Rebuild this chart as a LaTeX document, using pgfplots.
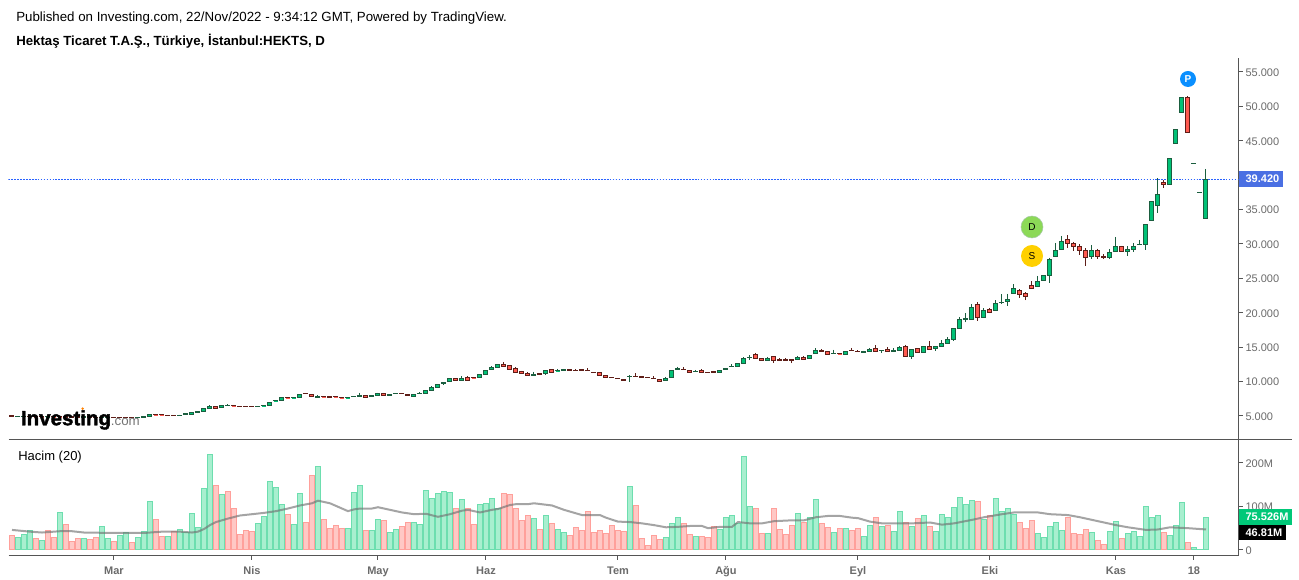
\documentclass[border=0pt]{standalone}
\usepackage{fontspec}
\setmainfont{Liberation Sans}
\newfontface\logofont[FakeBold=1.6]{Liberation Sans Bold}
\usepackage{pgfplots}
\pgfplotsset{compat=1.18}
\usepgfplotslibrary{statistics}
\definecolor{gfill}{HTML}{00C176}
\definecolor{gdark}{HTML}{1B5E3F}
\definecolor{rfill}{HTML}{FF5A50}
\definecolor{rdark}{HTML}{5E1E18}
\definecolor{vgf}{HTML}{A8EFCF}
\definecolor{vgd}{HTML}{6DDEAF}
\definecolor{vrf}{HTML}{FFC8C5}
\definecolor{vrd}{HTML}{FFA09B}
\definecolor{axc}{HTML}{555555}
\definecolor{lab}{HTML}{6A6A6A}
\definecolor{hl}{HTML}{2962FF}
\definecolor{lblue}{HTML}{4A6FE3}
\definecolor{lgreen}{HTML}{00C878}
\definecolor{bd}{HTML}{8CD957}
\definecolor{bs}{HTML}{FFD000}
\definecolor{bp}{HTML}{0A8FFF}
\newcommand\Cd[6]{\addplot[forget plot,line width=0.75pt,cand#6,boxplot prepared={draw position=#1,lower whisker=#2,lower quartile=#3,median=#3,upper quartile=#4,upper whisker=#5}] coordinates {};}
\pgfplotsset{candG/.style={draw=gdark,fill=gfill},candR/.style={draw=rdark,fill=rfill},
 boxplot/draw direction=y,boxplot/box extend=0.667, boxplot/whisker extend=0}
\newcommand\fs[1]{\fontsize{#1}{#1}\selectfont}
\begin{document}
\begin{tikzpicture}[x=1pt,y=1pt]
\useasboundingbox (0,0) rectangle (974.25,435);
\begin{axis}[name=price,at={(6.375pt,105pt)},anchor=south west,scale only axis,width=922.5pt,height=286.5pt,
 xmin=-0.583,xmax=204.42,ymin=1.512,ymax=57.03,
 axis x line=none,axis y line*=right,axis line style={-,draw=axc,line width=0.75pt},
 ytick={5,10,15,20,25,30,35,45,50,55},tick align=outside,major tick length=3pt,tick style={draw=axc,line width=0.75pt},
 tick label style={font=\fs{8.25pt},text=lab},
 yticklabel style={/pgf/number format/assume math mode=true,/pgf/number format/fixed,/pgf/number format/fixed zerofill,/pgf/number format/precision=3,xshift=-1.25pt,yshift=-0.4pt},
 scaled y ticks=false]
\addplot[forget plot,hl,line width=0.75pt,dash pattern=on 1.2pt off 1pt] coordinates {(-0.583,39.42)(204.42,39.42)};
\Cd{0}{4.98}{4.98}{5.02}{5.02}{R}\Cd{1}{4.93}{4.93}{4.97}{4.97}{G}\Cd{2}{4.93}{4.93}{4.97}{4.97}{G}\Cd{3}{4.90}{4.90}{4.94}{4.94}{R}\Cd{4}{4.88}{4.88}{4.92}{4.92}{R}
\Cd{5}{4.86}{4.86}{4.90}{4.90}{R}\Cd{6}{4.88}{4.88}{4.92}{4.92}{G}\Cd{7}{4.88}{4.88}{4.92}{4.92}{R}\Cd{8}{4.86}{4.86}{4.90}{4.90}{R}\Cd{9}{4.83}{4.83}{4.87}{4.87}{R}
\Cd{10}{4.83}{4.83}{4.87}{4.87}{R}\Cd{11}{4.82}{4.82}{4.86}{4.86}{R}\Cd{12}{4.82}{4.82}{4.86}{4.86}{G}\Cd{13}{4.82}{4.82}{4.86}{4.86}{R}\Cd{14}{4.81}{4.81}{4.85}{4.85}{R}
\Cd{15}{4.80}{4.80}{4.84}{4.84}{G}\Cd{16}{4.80}{4.80}{4.84}{4.84}{G}\Cd{17}{4.79}{4.79}{4.83}{4.83}{R}\Cd{18}{4.78}{4.78}{4.82}{4.82}{R}\Cd{19}{4.78}{4.78}{4.82}{4.82}{R}
\Cd{20}{4.79}{4.79}{4.83}{4.83}{R}\Cd{21}{4.79}{4.79}{4.83}{4.83}{G}\Cd{22}{4.83}{4.83}{4.87}{4.87}{G}\Cd{23}{4.89}{4.89}{5.24}{5.24}{G}\Cd{24}{5.17}{5.17}{5.21}{5.21}{R}
\Cd{25}{5.17}{5.17}{5.21}{5.21}{R}\Cd{26}{5.05}{5.08}{5.12}{5.12}{R}\Cd{27}{5.05}{5.08}{5.12}{5.12}{R}\Cd{28}{5.05}{5.08}{5.12}{5.20}{G}\Cd{29}{5.27}{5.27}{5.31}{5.31}{G}
\Cd{30}{5.22}{5.22}{5.50}{5.50}{G}\Cd{31}{5.56}{5.56}{5.60}{5.70}{G}\Cd{32}{5.67}{5.67}{6.08}{6.08}{G}\Cd{33}{6.05}{6.05}{6.42}{6.55}{G}\Cd{34}{6.05}{6.05}{6.38}{6.45}{R}
\Cd{35}{6.24}{6.24}{6.52}{6.52}{G}\Cd{36}{6.53}{6.53}{6.57}{6.70}{G}\Cd{37}{6.48}{6.48}{6.52}{6.62}{R}\Cd{38}{6.39}{6.39}{6.43}{6.43}{R}\Cd{39}{6.33}{6.33}{6.38}{6.38}{R}
\Cd{40}{6.33}{6.33}{6.38}{6.38}{R}\Cd{41}{6.33}{6.33}{6.38}{6.38}{G}\Cd{42}{6.48}{6.48}{6.52}{6.52}{G}\Cd{43}{6.52}{6.52}{6.96}{6.96}{G}\Cd{44}{7.15}{7.21}{7.25}{7.30}{G}
\Cd{45}{7.30}{7.30}{7.69}{7.69}{G}\Cd{46}{7.64}{7.64}{7.68}{7.75}{R}\Cd{47}{7.64}{7.64}{7.68}{7.68}{G}\Cd{48}{7.73}{7.73}{8.17}{8.17}{G}\Cd{49}{8.23}{8.23}{8.27}{8.27}{R}
\Cd{50}{7.75}{7.88}{8.13}{8.13}{R}\Cd{51}{7.68}{7.68}{7.89}{8.05}{G}\Cd{52}{7.79}{7.79}{7.83}{7.83}{R}\Cd{53}{7.74}{7.74}{7.78}{7.78}{R}\Cd{54}{7.79}{7.79}{7.83}{7.83}{R}
\Cd{55}{7.64}{7.64}{7.68}{7.68}{R}\Cd{56}{7.64}{7.64}{7.68}{7.68}{G}\Cd{57}{7.77}{7.77}{7.85}{7.85}{G}\Cd{58}{7.89}{7.89}{7.93}{8.39}{G}\Cd{59}{7.73}{7.73}{7.98}{7.98}{R}
\Cd{60}{7.89}{7.89}{7.93}{7.93}{G}\Cd{61}{7.98}{7.98}{8.31}{8.40}{G}\Cd{62}{7.98}{7.98}{8.27}{8.40}{R}\Cd{63}{8.03}{8.03}{8.07}{8.07}{G}\Cd{64}{8.22}{8.22}{8.34}{8.34}{G}
\Cd{65}{8.22}{8.22}{8.34}{8.34}{R}\Cd{66}{7.95}{7.95}{8.09}{8.09}{R}\Cd{67}{7.83}{7.83}{8.13}{8.13}{G}\Cd{68}{8.27}{8.27}{8.31}{8.45}{G}\Cd{69}{8.31}{8.31}{8.71}{8.71}{G}
\Cd{70}{8.73}{8.73}{9.19}{9.30}{G}\Cd{71}{9.14}{9.14}{9.56}{9.56}{G}\Cd{72}{9.55}{9.72}{9.94}{9.94}{G}\Cd{73}{10.00}{10.00}{10.45}{10.45}{G}\Cd{74}{10.18}{10.18}{10.45}{10.45}{R}
\Cd{75}{10.18}{10.18}{10.50}{10.80}{G}\Cd{76}{10.18}{10.18}{10.58}{10.75}{R}\Cd{77}{10.55}{10.55}{10.59}{10.70}{R}\Cd{78}{10.62}{10.62}{11.03}{11.03}{G}\Cd{79}{11.06}{11.06}{11.60}{11.60}{G}
\Cd{80}{11.78}{11.78}{12.08}{12.25}{G}\Cd{81}{12.07}{12.07}{12.46}{12.46}{G}\Cd{82}{12.20}{12.20}{12.46}{12.80}{R}\Cd{83}{11.78}{11.78}{12.27}{12.27}{R}\Cd{84}{11.37}{11.37}{11.90}{12.05}{R}
\Cd{85}{11.22}{11.22}{11.45}{11.60}{R}\Cd{86}{10.93}{10.93}{11.17}{11.40}{R}\Cd{87}{10.85}{10.95}{11.10}{11.40}{G}\Cd{88}{10.90}{11.05}{11.17}{11.17}{R}\Cd{89}{11.00}{11.18}{11.55}{11.55}{G}
\Cd{90}{11.37}{11.37}{11.73}{11.73}{R}\Cd{91}{11.57}{11.57}{11.61}{11.85}{G}\Cd{92}{11.66}{11.66}{11.70}{11.85}{G}\Cd{93}{11.66}{11.66}{11.72}{11.72}{R}\Cd{94}{11.60}{11.60}{11.66}{11.78}{R}
\Cd{95}{11.66}{11.66}{11.70}{11.82}{R}\Cd{96}{11.55}{11.55}{11.62}{11.92}{R}\Cd{97}{11.28}{11.28}{11.33}{11.33}{R}\Cd{98}{10.95}{10.95}{11.27}{11.27}{R}\Cd{99}{10.65}{10.65}{10.88}{10.88}{R}
\Cd{100}{10.55}{10.55}{10.62}{10.62}{R}\Cd{101}{10.40}{10.40}{10.45}{10.45}{R}\Cd{102}{10.23}{10.23}{10.30}{10.30}{R}\Cd{103}{9.99}{10.70}{10.78}{10.90}{G}\Cd{104}{10.70}{10.70}{10.78}{11.20}{R}
\Cd{105}{10.65}{10.65}{10.70}{10.70}{R}\Cd{106}{10.55}{10.55}{10.60}{10.60}{R}\Cd{107}{10.40}{10.40}{10.48}{10.75}{R}\Cd{108}{10.06}{10.06}{10.30}{10.30}{R}\Cd{109}{10.14}{10.14}{10.50}{10.70}{G}
\Cd{110}{10.65}{10.65}{11.55}{11.55}{G}\Cd{111}{11.76}{11.76}{11.84}{12.17}{G}\Cd{112}{11.72}{11.72}{11.78}{12.10}{R}\Cd{113}{11.35}{11.35}{11.60}{11.60}{R}\Cd{114}{11.42}{11.42}{11.50}{11.70}{G}
\Cd{115}{11.35}{11.35}{11.60}{11.80}{R}\Cd{116}{11.27}{11.27}{11.33}{11.33}{R}\Cd{117}{11.38}{11.38}{11.42}{11.60}{R}\Cd{118}{11.35}{11.35}{11.55}{11.55}{G}\Cd{119}{11.78}{11.78}{11.90}{12.00}{G}
\Cd{120}{12.15}{12.15}{12.20}{12.50}{G}\Cd{121}{12.22}{12.22}{12.56}{12.56}{G}\Cd{122}{12.66}{12.66}{13.38}{13.55}{G}\Cd{123}{13.15}{13.50}{13.55}{13.85}{G}\Cd{124}{13.38}{13.38}{13.87}{14.20}{R}
\Cd{125}{13.04}{13.04}{13.38}{13.38}{R}\Cd{126}{13.04}{13.04}{13.38}{13.60}{G}\Cd{127}{12.75}{13.04}{13.60}{13.60}{R}\Cd{128}{13.11}{13.11}{13.16}{13.40}{R}\Cd{129}{13.11}{13.11}{13.16}{13.40}{R}
\Cd{130}{12.65}{13.10}{13.16}{13.16}{R}\Cd{131}{13.19}{13.19}{13.48}{13.75}{G}\Cd{132}{13.28}{13.28}{13.53}{13.70}{R}\Cd{133}{13.38}{13.38}{13.82}{13.82}{G}\Cd{134}{14.10}{14.10}{14.45}{14.85}{G}
\Cd{135}{14.43}{14.43}{14.47}{14.70}{R}\Cd{136}{13.96}{13.96}{14.40}{14.40}{R}\Cd{137}{14.08}{14.08}{14.14}{14.65}{G}\Cd{138}{14.02}{14.02}{14.08}{14.08}{R}\Cd{139}{13.90}{13.90}{14.40}{14.40}{G}
\Cd{140}{14.52}{14.52}{14.58}{14.90}{R}\Cd{141}{14.33}{14.33}{14.40}{14.55}{R}\Cd{142}{14.28}{14.28}{14.32}{14.50}{G}\Cd{143}{14.40}{14.40}{14.60}{14.85}{G}\Cd{144}{14.40}{14.40}{14.83}{15.30}{R}
\Cd{145}{14.20}{14.45}{14.55}{14.55}{G}\Cd{146}{14.40}{14.40}{14.69}{15.00}{R}\Cd{147}{14.43}{14.43}{14.47}{14.90}{G}\Cd{148}{14.55}{14.55}{14.93}{15.20}{G}\Cd{149}{13.67}{13.67}{15.13}{15.35}{R}
\Cd{150}{13.30}{13.67}{14.69}{14.69}{G}\Cd{151}{14.25}{14.25}{14.79}{14.79}{R}\Cd{152}{14.20}{14.20}{15.13}{15.13}{G}\Cd{153}{14.69}{14.69}{15.13}{15.90}{R}\Cd{154}{14.50}{14.84}{15.13}{15.13}{G}
\Cd{155}{15.08}{15.08}{15.56}{16.00}{G}\Cd{156}{15.56}{15.56}{16.14}{16.45}{G}\Cd{157}{15.95}{16.14}{17.70}{17.70}{G}\Cd{158}{17.74}{17.74}{19.05}{19.40}{G}\Cd{159}{18.60}{19.05}{19.20}{20.00}{G}
\Cd{160}{19.05}{19.05}{20.80}{21.30}{G}\Cd{161}{18.85}{19.34}{21.18}{21.50}{R}\Cd{162}{19.34}{19.34}{20.30}{20.65}{G}\Cd{163}{19.90}{20.06}{20.50}{20.70}{R}\Cd{164}{20.36}{20.36}{21.38}{21.85}{G}
\Cd{165}{21.30}{21.43}{21.53}{22.70}{G}\Cd{166}{21.00}{21.60}{21.95}{22.80}{G}\Cd{167}{22.83}{22.83}{23.50}{24.15}{G}\Cd{168}{22.20}{22.63}{23.27}{23.45}{R}\Cd{169}{21.80}{22.40}{22.78}{23.00}{R}
\Cd{170}{23.55}{23.55}{24.00}{24.60}{R}\Cd{171}{23.80}{23.80}{24.57}{25.35}{G}\Cd{172}{24.72}{24.72}{25.45}{25.45}{G}\Cd{173}{24.38}{25.45}{27.77}{28.00}{G}\Cd{174}{28.16}{28.16}{29.08}{30.15}{G}
\Cd{175}{29.20}{29.20}{30.39}{31.16}{G}\Cd{176}{29.47}{30.10}{30.68}{31.30}{R}\Cd{177}{29.03}{29.60}{30.10}{30.30}{R}\Cd{178}{28.40}{29.08}{29.66}{29.95}{R}\Cd{179}{26.80}{28.06}{29.08}{29.37}{R}
\Cd{180}{27.87}{28.16}{29.08}{29.80}{G}\Cd{181}{27.87}{28.16}{29.08}{29.32}{R}\Cd{182}{27.77}{28.10}{28.20}{28.50}{R}\Cd{183}{27.87}{28.06}{28.79}{29.27}{G}\Cd{184}{28.93}{28.93}{29.66}{31.02}{G}
\Cd{185}{28.93}{28.93}{29.66}{29.76}{R}\Cd{186}{28.30}{28.93}{29.20}{29.70}{G}\Cd{187}{28.88}{29.20}{29.66}{30.15}{G}\Cd{188}{29.90}{29.90}{29.98}{30.58}{G}\Cd{189}{29.13}{29.95}{32.86}{32.86}{G}
\Cd{190}{33.44}{33.44}{36.20}{36.20}{G}\Cd{191}{34.55}{35.62}{37.22}{39.54}{G}\Cd{192}{38.19}{38.62}{38.96}{39.30}{R}\Cd{193}{38.67}{38.67}{42.45}{42.45}{G}\Cd{194}{44.63}{44.63}{46.67}{46.67}{G}
\Cd{195}{49.14}{49.14}{51.32}{51.32}{G}\Cd{196}{46.23}{46.23}{51.32}{51.50}{R}\Cd{197}{41.70}{41.70}{41.76}{41.76}{G}\Cd{198}{37.48}{37.48}{37.54}{37.54}{G}\Cd{199}{33.73}{33.73}{39.42}{40.90}{G}
\end{axis}
\begin{axis}[name=vol,at={(6.375pt,18pt)},anchor=south west,scale only axis,width=922.5pt,height=87pt,
 xmin=-0.583,xmax=204.42,ymin=-13.75,ymax=252,
 axis x line*=bottom,axis y line*=right,axis line style={-,draw=axc,line width=0.75pt},
 xtick={17,40,61,79,101,119,141,163,184,197},xticklabels={Mar,Nis,May,Haz,Tem,Ağu,Eyl,Eki,Kas,18},
 ytick={0,100,200},yticklabels={0,100M,200M},
 tick align=outside,major tick length=3pt,tick style={draw=axc,line width=0.75pt},
 xticklabel style={font=\fs{8.25pt}\bfseries,text=lab,yshift=-1pt,text height=6pt,text depth=1.8pt},
 yticklabel style={font=\fs{8.25pt},text=lab,xshift=-1.25pt,yshift=-0.4pt},
 ybar,bar shift=0pt,bar width=3.75pt]
\addplot[forget plot,fill=vrf,draw=vrd,line width=0.75pt] coordinates {(0,34)(4,27)(6,45)(7,29)(9,59)(10,20)(11,27)(13,24)(14,29)(17,20)(20,18)(24,70)(25,31)(27,43)(34,148)(36,134)(37,95)(38,36)(39,45)(40,43)(46,82)(49,63)(50,171)(52,70)(53,50)(54,57)(55,50)(59,45)(62,68)(65,54)(66,63)(74,95)(76,95)(77,59)(82,130)(83,128)(84,95)(85,68)(86,79)(88,47)(90,61)(93,34)(94,52)(95,45)(96,89)(97,40)(98,45)(99,38)(100,57)(101,45)(102,43)(104,102)(105,27)(106,11)(107,34)(108,24)(112,61)(113,36)(115,31)(116,29)(117,54)(124,95)(125,38)(127,95)(128,47)(129,36)(130,57)(132,63)(135,61)(136,52)(138,50)(140,45)(141,50)(144,75)(146,57)(149,63)(151,73)(153,54)(161,111)(163,79)(168,63)(169,50)(170,68)(176,75)(177,38)(178,36)(179,47)(181,22)(182,13)(185,27)(192,40)(196,18)};
\addplot[forget plot,fill=vgf,draw=vgd,line width=0.75pt] coordinates {(1,29)(2,36)(3,45)(5,22)(8,86)(12,27)(15,54)(16,27)(18,34)(19,40)(21,29)(22,43)(23,111)(26,31)(28,47)(29,40)(30,84)(31,52)(32,141)(33,219)(35,128)(41,61)(42,77)(43,157)(44,144)(45,105)(47,59)(48,130)(51,192)(56,50)(57,132)(58,148)(60,45)(61,70)(63,40)(64,47)(67,63)(68,59)(69,137)(70,118)(71,130)(72,134)(73,132)(75,116)(78,105)(79,107)(80,118)(81,95)(87,73)(89,79)(91,47)(92,40)(103,146)(109,29)(110,61)(111,75)(114,31)(118,47)(119,75)(120,79)(121,61)(122,215)(123,100)(126,38)(131,84)(133,75)(134,116)(137,40)(139,50)(142,32)(143,57)(145,54)(147,43)(148,89)(150,54)(152,79)(154,43)(155,82)(156,75)(157,98)(158,121)(159,105)(160,114)(162,70)(164,118)(165,89)(166,95)(167,82)(171,38)(172,29)(173,54)(174,63)(175,45)(180,40)(183,43)(184,66)(186,38)(187,43)(188,31)(189,100)(190,75)(191,79)(193,34)(194,57)(195,109)(197,6)(198,0.5)(199,75.5)};
\addplot[forget plot,sharp plot,no markers,draw=black!55,draw opacity=0.65,line width=1.5pt] coordinates {(0,46)(3,42)(5,40)(8,43)(10,43)(12,40)(17,39)(22,39)(25,42)(28,42)(30,40)(31,42)(32,48)(33,57)(34,64)(36,72)(38,79)(40,82)(42,85)(44,89)(46,95)(48,102)(50,107)(51,113)(53,107)(55,95)(56,89)(57,93)(58,95)(60,95)(61,98)(63,92)(65,86)(67,82)(69,83)(71,76)(73,82)(75,90)(76,92)(78,86)(80,92)(81,94)(83,103)(84,105)(86,105)(87,107)(90,102)(92,92)(94,84)(95,80)(98,80)(99,74)(101,65)(103,64)(105,61)(107,57)(109,52)(111,53)(113,55)(115,55)(116,50)(118,53)(120,53)(121,64)(123,61)(125,61)(127,66)(130,68)(132,68)(134,75)(136,78)(138,78)(140,74)(141,73)(142,69)(143,65)(145,61)(148,61)(150,61)(153,63)(155,58)(157,61)(160,69)(162,75)(165,82)(167,86)(169,86)(171,86)(173,82)(176,80)(178,75)(181,66)(184,57)(186,52)(189,46)(191,47)(193,52)(196,50)(199,47)};
\end{axis}
% pane divider
\draw[axc,line width=0.75pt] (6.375,105) -- (969,105);
% titles
\node[anchor=west,inner sep=0pt,font=\fs{9.97pt}] at (12,421.3) {Published on Investing.com, 22/Nov/2022 - 9:34:12 GMT, Powered by TradingView.};
\node[anchor=west,inner sep=0pt,font=\fs{9.93pt}\bfseries] at (12,404.3) {Hektaş Ticaret T.A.Ş., Türkiye, İstanbul:HEKTS, D};
\node[anchor=west,inner sep=0pt,font=\fs{9.75pt}] at (13.5,92) {Hacim (20)};
% logo
\node[anchor=west,inner sep=0pt,font=\fs{15.4pt}\logofont] (lg) at (15.5,120) {Investing};
\node[anchor=west,inner sep=0pt,font=\fs{10pt},text=black!55,yshift=-1.2pt,xshift=-0.5pt] at (lg.east) {.com};
\fill[orange] (62,128.5) circle (1pt);
% last value labels
\fill[lblue] (929,294.75) rectangle (962.5,306.75);
\node[anchor=west,inner sep=0pt,font=\fs{8.25pt}\bfseries,text=white] at (934,300.75) {39.420};
\fill[lgreen] (929,41.25) rectangle (969,53.25);
\node[anchor=west,inner sep=0pt,font=\fs{8.25pt}\bfseries,text=white] at (934,47.25) {75.526M};
\fill[black] (929,30) rectangle (964.5,41.25);
\node[anchor=west,inner sep=0pt,font=\fs{8.25pt}\bfseries,text=white] at (934,35.6) {46.81M};
% event bubbles
\node[circle,inner sep=0pt,minimum size=16.5pt,fill=bd,draw=green!40!black!35!white,line width=.4pt,font=\fs{7.5pt}] at (774,264.75) {D};
\node[circle,inner sep=0pt,minimum size=16.5pt,fill=bs,font=\fs{7.5pt}] at (774,243) {S};
\node[circle,inner sep=0pt,minimum size=12pt,fill=bp,text=white,font=\fs{7.5pt}\bfseries] at (891,375.75) {P};
\end{tikzpicture}
\end{document}
